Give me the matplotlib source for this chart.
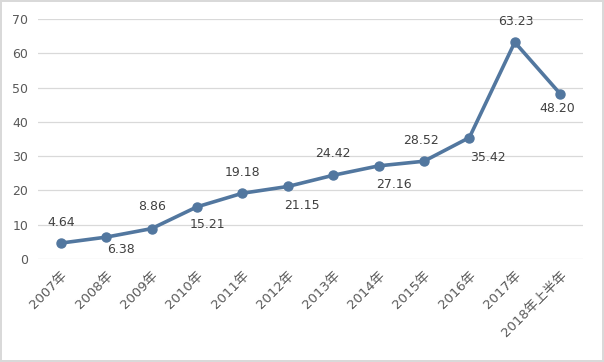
import matplotlib.pyplot as plt
import numpy as np

plt.rcParams['font.family'] = ['DejaVu Sans', 'Noto Sans CJK SC']

years = ['2007年', '2008年', '2009年', '2010年', '2011年', '2012年', '2013年',
         '2014年', '2015年', '2016年', '2017年', '2018年上半年']
values = [4.64, 6.38, 8.86, 15.21, 19.18, 21.15, 24.42, 27.16, 28.52, 35.42, 63.23, 48.20]

# data label offsets from the point, in pixels (dx right, dy down)
lbl_off = [(0, -21), (15, 12), (1, -22), (11, 18), (0, -21), (14, 19),
           (0, -22), (15, 19), (-3, -21), (19, 20), (1, -21), (-3, 15)]

line_c = '#52779f'
fig = plt.figure(figsize=(6.04, 3.62), dpi=100)
fig.patch.set_edgecolor('#d9d9d9')
fig.patch.set_linewidth(1.5)
ax = fig.add_axes([0.063, 0.2845, 0.902, 0.663])

x = np.arange(len(years))
ax.plot(x, values, color=line_c, lw=2.6, marker='o', ms=6.5, zorder=3)

for xi, v, (dx, dy) in zip(x, values, lbl_off):
    ax.annotate('%.2f' % v, (xi, v), xytext=(dx * 0.72, -dy * 0.72),
                textcoords='offset points', ha='center', va='center',
                fontsize=9, color='#404040')

ax.set_xlim(-0.5, len(years) - 0.5)
ax.set_ylim(0, 70)
ax.set_yticks(range(0, 71, 10))
ax.grid(axis='y', color='#d9d9d9', lw=0.9)
ax.set_axisbelow(True)
for sp in ax.spines.values():
    sp.set_visible(False)
ax.tick_params(length=0, colors='#595959', labelsize=9)
ax.tick_params(axis='y', pad=7)
ax.set_xticks(x)
ax.set_xticklabels(years, rotation=45, ha='right', va='top', rotation_mode='anchor',
                   fontsize=9.5)
ax.tick_params(axis='x', pad=7)

fig.savefig('out.png', dpi=100, edgecolor=fig.get_edgecolor())
